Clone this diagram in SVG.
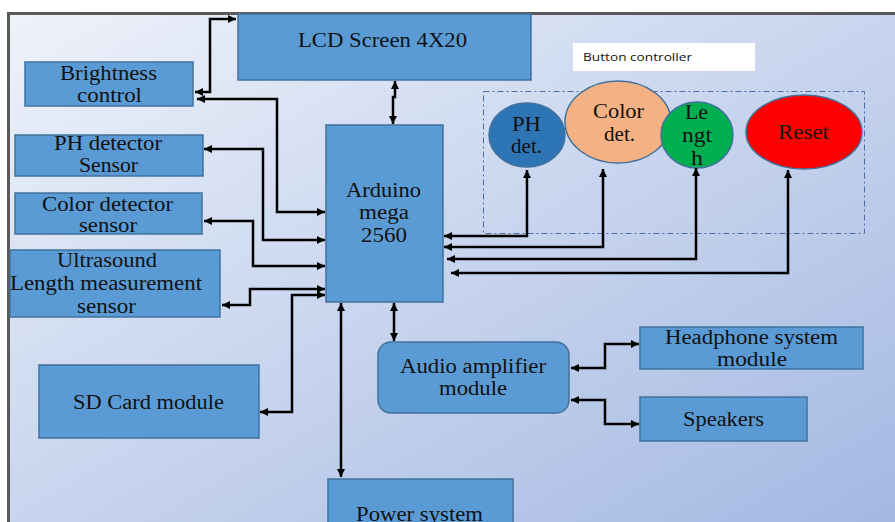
<svg xmlns="http://www.w3.org/2000/svg" width="895" height="522" viewBox="0 0 895 522">
<defs>
<linearGradient id="bg" x1="0" y1="0" x2="1" y2="1">
<stop offset="0" stop-color="#eef2fa"/>
<stop offset="1" stop-color="#a3b8e2"/>
</linearGradient>
<marker id="ah" viewBox="0 0 10 10" refX="10" refY="5" markerUnits="userSpaceOnUse" markerWidth="9" markerHeight="8" orient="auto-start-reverse">
<path d="M0,0 L10,5 L0,10 z" fill="#000"/>
</marker>
<style>
.box{fill:#5b9bd5;stroke:#41719c;stroke-width:1.5}
.t{font-family:"Liberation Serif","Times New Roman",serif;font-size:20px;fill:#111;text-anchor:middle}
.c{fill:none;stroke:#000;stroke-width:2.5;marker-start:url(#ah);marker-end:url(#ah)}
</style>
</defs>
<rect x="0" y="0" width="895" height="522" fill="#fff"/>
<rect x="8" y="13" width="887" height="509" fill="url(#bg)"/>
<path d="M8.5,522 V13.5 H895" fill="none" stroke="#595959" stroke-width="3"/>

<g id="lcd"><rect class="box" x="238" y="14" width="293" height="66"/><text class="t" x="382.5" y="47" textLength="169" lengthAdjust="spacingAndGlyphs">LCD Screen 4X20</text></g>
<g id="brightness"><rect class="box" x="25" y="62" width="168" height="44"/><text class="t" x="108.5" y="80" textLength="97" lengthAdjust="spacingAndGlyphs">Brightness</text><text class="t" x="109.5" y="102" textLength="65" lengthAdjust="spacingAndGlyphs">control</text></g>
<g id="ph-sensor"><rect class="box" x="15" y="135" width="188" height="41"/><text class="t" x="108" y="150" textLength="108" lengthAdjust="spacingAndGlyphs">PH detector</text><text class="t" x="108.5" y="172" textLength="59" lengthAdjust="spacingAndGlyphs">Sensor</text></g>
<g id="color-sensor"><rect class="box" x="15" y="193" width="187" height="41"/><text class="t" x="107.5" y="211" textLength="131" lengthAdjust="spacingAndGlyphs">Color detector</text><text class="t" x="108" y="232" textLength="58" lengthAdjust="spacingAndGlyphs">sensor</text></g>
<g id="ultrasound"><rect class="box" x="10" y="250" width="210" height="67"/><text class="t" x="107" y="267" textLength="100" lengthAdjust="spacingAndGlyphs">Ultrasound</text><text class="t" x="106" y="290" textLength="192" lengthAdjust="spacingAndGlyphs">Length measurement</text><text class="t" x="106.5" y="313" textLength="59" lengthAdjust="spacingAndGlyphs">sensor</text></g>
<g id="sdcard"><rect class="box" x="39" y="365" width="220" height="73"/><text class="t" x="148.5" y="409" textLength="151" lengthAdjust="spacingAndGlyphs">SD Card module</text></g>
<g id="arduino"><rect class="box" x="326" y="125" width="117" height="177"/><text class="t" x="383.5" y="197" textLength="75" lengthAdjust="spacingAndGlyphs">Arduino</text><text class="t" x="384" y="219" textLength="50" lengthAdjust="spacingAndGlyphs">mega</text><text class="t" x="384" y="242" textLength="46" lengthAdjust="spacingAndGlyphs">2560</text></g>
<g id="audio"><rect class="box" x="378" y="342" width="191" height="71" rx="13"/><text class="t" x="473" y="373" textLength="146" lengthAdjust="spacingAndGlyphs">Audio amplifier</text><text class="t" x="473" y="395" textLength="68" lengthAdjust="spacingAndGlyphs">module</text></g>
<g id="headphone"><rect class="box" x="640" y="327" width="223" height="42"/><text class="t" x="751.5" y="344" textLength="173" lengthAdjust="spacingAndGlyphs">Headphone system</text><text class="t" x="752" y="366" textLength="70" lengthAdjust="spacingAndGlyphs">module</text></g>
<g id="speakers"><rect class="box" x="640" y="397" width="167" height="44"/><text class="t" x="723.5" y="426" textLength="81" lengthAdjust="spacingAndGlyphs">Speakers</text></g>
<g id="power"><rect class="box" x="328" y="479" width="185" height="50"/><text class="t" x="419.5" y="521" textLength="127" lengthAdjust="spacingAndGlyphs">Power system</text></g>

<g id="button-controller">
<rect x="573" y="43" width="182" height="28" fill="#fff"/>
<text x="583" y="61" font-family="'Open Sans','Liberation Sans',sans-serif" font-size="11" fill="#111" textLength="109" lengthAdjust="spacingAndGlyphs">Button controller</text>
<rect x="483.5" y="91.5" width="381" height="142" fill="none" stroke="#4a6ea8" stroke-width="1" stroke-dasharray="6 3 2 3"/>
</g>
<g id="ph-btn"><ellipse cx="527" cy="135" rx="38" ry="32" fill="#2e75b6" stroke="#41719c" stroke-width="1.5"/><text class="t" x="526.5" y="131" textLength="29" lengthAdjust="spacingAndGlyphs">PH</text><text class="t" x="526.5" y="153" textLength="31" lengthAdjust="spacingAndGlyphs">det.</text></g>
<g id="color-btn"><ellipse cx="618" cy="122" rx="53" ry="41" fill="#f4b183" stroke="#41719c" stroke-width="1.5"/><text class="t" x="618.5" y="118" textLength="51" lengthAdjust="spacingAndGlyphs">Color</text><text class="t" x="619.5" y="141" textLength="31" lengthAdjust="spacingAndGlyphs">det.</text></g>
<g id="length-btn"><ellipse cx="697" cy="135" rx="36" ry="33" fill="#00b050" stroke="#41719c" stroke-width="1.5"/><text class="t" x="696.5" y="119" textLength="23" lengthAdjust="spacingAndGlyphs">Le</text><text class="t" x="697" y="142" textLength="30" lengthAdjust="spacingAndGlyphs">ngt</text><text class="t" x="697" y="165" textLength="12" lengthAdjust="spacingAndGlyphs">h</text></g>
<g id="reset-btn"><ellipse cx="804" cy="132" rx="58" ry="37" fill="#ff0000" stroke="#41719c" stroke-width="1.5"/><text class="t" x="803.5" y="139" textLength="51" lengthAdjust="spacingAndGlyphs">Reset</text></g>

<g id="connectors">
<path class="c" d="M195,92 H210 V19 H236"/>
<path class="c" d="M197,99 H277 V212 H325"/>
<path class="c" d="M204,149 H263 V240 H325"/>
<path class="c" d="M204,221 H253 V266 H325"/>
<path class="c" d="M222,305 H250 V289 H325"/>
<path class="c" d="M260,412 H292 V295 H325"/>
<path class="c" d="M395,81 V97 H393 V124"/>
<path class="c" d="M341,303 V477"/>
<path class="c" d="M394,303 V341"/>
<path class="c" d="M527,170 V236 H444"/>
<path class="c" d="M603,169 V247 H444"/>
<path class="c" d="M696,168 V259 H447"/>
<path class="c" d="M788,170 V273 H451"/>
<path class="c" d="M571,368 H605 V344 H639"/>
<path class="c" d="M571,400 H605 V424 H639"/>
</g>
</svg>
